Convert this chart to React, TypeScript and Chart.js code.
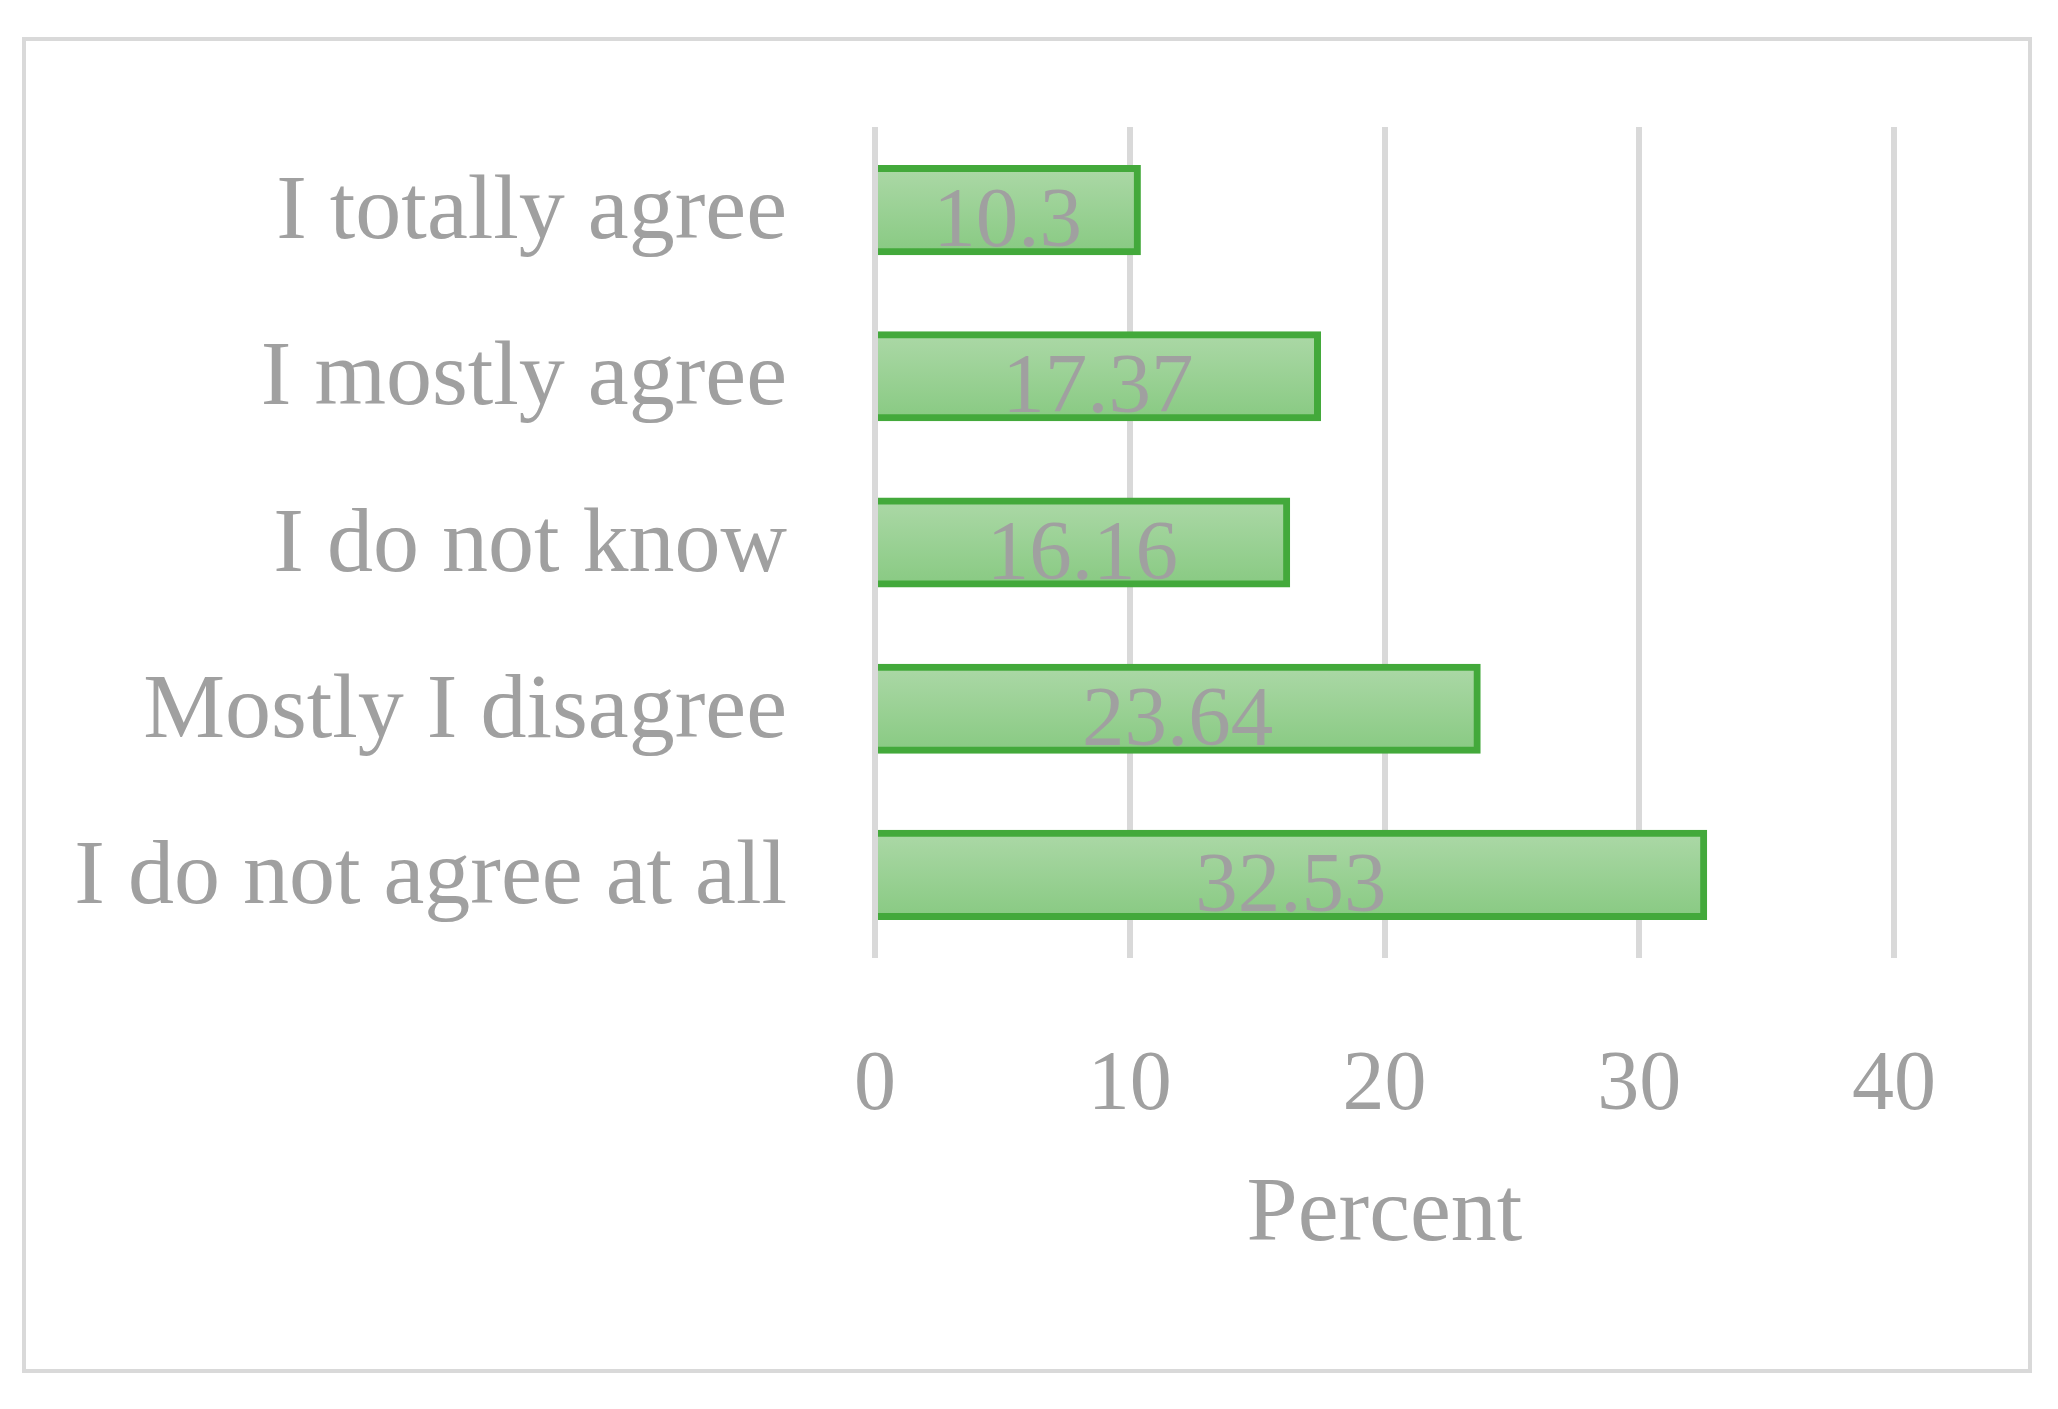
import React, { useEffect, useRef } from "react";
import { Chart, registerables } from "chart.js";

Chart.register(...registerables);

const categories = [
  "I totally agree",
  "I mostly agree",
  "I do not know",
  "Mostly I disagree",
  "I do not agree at all",
];
const percentValues = [10.3, 17.37, 16.16, 23.64, 32.53];
const valueLabels = ["10.3", "17.37", "16.16", "23.64", "32.53"];
const xTicks = [0, 10, 20, 30, 40];
const xTitle = "Percent";

const GRAY = "#a0a0a0";
const FONT = "'Liberation Serif', 'Times New Roman', serif";
const BAR_PCT = 0.5;

const frameAndLabels = {
  id: "frameAndLabels",
  beforeDraw(chart: any) {
    const ctx = chart.ctx;
    ctx.save();
    ctx.fillStyle = "#ffffff";
    ctx.fillRect(0, 0, chart.width, chart.height);
    ctx.strokeStyle = "#d9d9d9";
    ctx.lineWidth = 4;
    ctx.strokeRect(24, 39, 2006, 1332);
    ctx.restore();
  },
  afterDatasetsDraw(chart: any) {
    const ctx = chart.ctx;
    const meta = chart.getDatasetMeta(0);
    ctx.save();
    ctx.fillStyle = GRAY;
    ctx.font = `85px ${FONT}`;
    ctx.textAlign = "center";
    ctx.textBaseline = "alphabetic";
    meta.data.forEach((bar: any, i: number) => {
      const cx = (bar.x + bar.base) / 2;
      ctx.fillText(valueLabels[i], cx, bar.y + 36);
    });
    ctx.restore();
  },
};

export default function App() {
  const ref = useRef<HTMLCanvasElement | null>(null);
  useEffect(() => {
    if (!ref.current) return;
    const chart = new Chart(ref.current, {
      type: "bar",
      data: {
        labels: categories,
        datasets: [
          {
            data: percentValues,
            backgroundColor: (c: any) => {
              const ch = c.chart;
              const ys = ch.scales && ch.scales.y;
              if (!ys || c.dataIndex === undefined || !ch.chartArea) return "#9ad096";
              const center = ys.getPixelForValue(c.dataIndex);
              const h = (ys.height / categories.length) * BAR_PCT;
              const g = ch.ctx.createLinearGradient(0, center - h / 2, 0, center + h / 2);
              g.addColorStop(0, "#abd8a6");
              g.addColorStop(1, "#89ca83");
              return g;
            },
            borderColor: "#43a93b",
            borderWidth: 7,
            borderSkipped: "start",
            inflateAmount: 3.5,
            categoryPercentage: 1,
            barPercentage: BAR_PCT,
          },
        ],
      },
      options: {
        indexAxis: "y",
        animation: false,
        responsive: false,
        layout: { padding: { left: 0, top: 127, right: 164, bottom: 0 } },
        plugins: {
          legend: { display: false },
          tooltip: { enabled: false },
        },
        scales: {
          x: {
            type: "linear",
            min: 0,
            max: 40,
            afterBuildTicks: (s: any) => {
              s.ticks = xTicks.map((v) => ({ value: v }));
            },
            afterFit: (s: any) => {
              s.height = 451;
              s.paddingLeft = 0;
              s.paddingRight = 0;
            },
            grid: { color: "#d9d9d9", lineWidth: 6, drawTicks: false },
            border: { display: false },
            ticks: {
              color: GRAY,
              font: { family: FONT, size: 84 },
              padding: 79,
            },
            title: {
              display: true,
              text: xTitle,
              color: GRAY,
              font: { family: FONT, size: 92, lineHeight: 1.2 },
              padding: { top: 0, bottom: 138 },
            },
          },
          y: {
            afterFit: (s: any) => {
              s.width = 875;
              s.paddingTop = 0;
              s.paddingBottom = 0;
            },
            grid: { display: false, drawTicks: false },
            border: { display: false },
            ticks: {
              color: GRAY,
              font: { family: FONT, size: 92 },
              padding: 88,
              labelOffset: 4,
            },
          },
        },
      },
      plugins: [frameAndLabels],
    } as any);
    return () => chart.destroy();
  }, []);
  return (
    <div style={{ position: "absolute", left: 0, top: 0, width: 2058, height: 1409 }}>
      <canvas ref={ref} width={2058} height={1409} style={{ display: "block" }} />
    </div>
  );
}
